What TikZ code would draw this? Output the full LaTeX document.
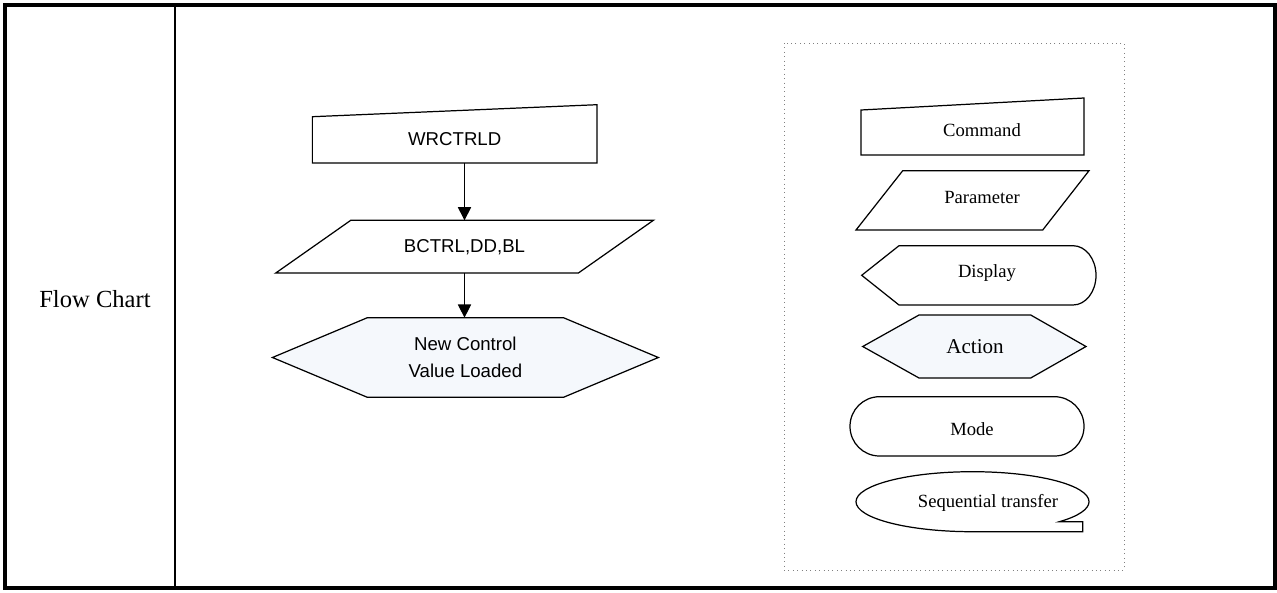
\documentclass[tikz,border=0pt]{standalone}
\usepackage{fontspec}
\setmainfont{Liberation Serif}
\setsansfont{Liberation Sans}
\usetikzlibrary{arrows.meta,calc,backgrounds}

\definecolor{hexfill}{RGB}{245,248,252}

\tikzset{
  flowbox/.style={inner sep=0pt,font=\sffamily\fontsize{10.6}{15}\selectfont},
  keytext/.style={inner sep=0pt,font=\fontsize{10.6}{13}\selectfont},
  outline/.style={draw=black,line width=0.7pt},
}

\begin{document}
\begin{tikzpicture}[x=0.02cm,y=-0.02cm,>={Triangle[length=7.5pt,width=7.5pt]}]
  \useasboundingbox (0,0) rectangle (1277,592);
  % table frame
  \draw[line width=2.5pt] (5,5) rectangle (1275,588);
  \draw[line width=1.1pt] (175,5) -- (175,588);
  \node (title) at (95,299) {\fontsize{14}{17}\selectfont Flow Chart};

  % flow chart
  \node[flowbox,minimum width=5.68cm,minimum height=0.954cm] (wrctrld) at (454.7,138.9) {WRCTRLD};
  \node[flowbox,minimum width=7.54cm,minimum height=1.04cm] (bctrl) at (464.5,246.7) {BCTRL,DD,BL};
  \node[flowbox,minimum width=7.706cm,minimum height=1.58cm,align=center] (loaded) at (465.4,357.5) {New Control\\Value Loaded};
  \begin{scope}[on background layer]
    \draw[outline] (wrctrld.south west) -- ($(wrctrld.north west)+(0,2)$) -- ($(wrctrld.north east)+(0,-10)$) -- (wrctrld.south east) -- cycle;
    \draw[outline] (bctrl.south west) -- ($(bctrl.north west)+(75,0)$) -- (bctrl.north east) -- ($(bctrl.south east)+(-75,0)$) -- cycle;
    \draw[outline,fill=hexfill] (loaded.west) -- ($(loaded.north west)+(95,0)$) -- ($(loaded.north east)+(-95,0)$) -- (loaded.east) -- ($(loaded.south east)+(-95,0)$) -- ($(loaded.south west)+(95,0)$) -- cycle;
  \end{scope}
  \draw[->,line width=0.6pt] (bctrl.north |- wrctrld.south) -- (bctrl.north);
  \draw[->,line width=0.6pt] (bctrl.south) -- (bctrl.south |- loaded.north);

  % legend
  \draw[gray,dotted,line width=0.5pt] (784,43) rectangle (1124,570);
  \draw[outline] (861,155) -- (861,110) -- (1084,98) -- (1084,155) -- cycle;
  \node[keytext] (command) at (982,130) {Command};
  \draw[outline] (856,230) -- (902.7,170.7) -- (1089,170.7) -- (1042.7,230) -- cycle;
  \node[keytext] (parameter) at (982,197) {Parameter};
  \draw[outline] (861.7,275.3) -- (899,245.7) -- (1073,245.7) arc[start angle=-90,end angle=90,x radius=23,y radius=29.65] -- (899,305) -- cycle;
  \node[keytext] (display) at (987,273) {Display};
  \draw[outline,fill=hexfill] (862.7,346.5) -- (919,315) -- (1030.7,315) -- (1086,346.5) -- (1030.7,378) -- (919,378) -- cycle;
  \node[keytext,font=\fontsize{12}{14}\selectfont] (action) at (975,347) {Action};
  \draw[outline,rounded corners=16.8pt] (850,396.7) rectangle (1084,456);
  \node[keytext] (mode) at (972,429) {Mode};
  \draw[outline] (972.5,531.7) arc[start angle=90,end angle=401.8,x radius=116.5,y radius=30] -- (1082.7,521.7) -- (1082.7,531.7) -- cycle;
  \node[keytext] (seqtransfer) at (988,503) {Sequential transfer};
\end{tikzpicture}
\end{document}
